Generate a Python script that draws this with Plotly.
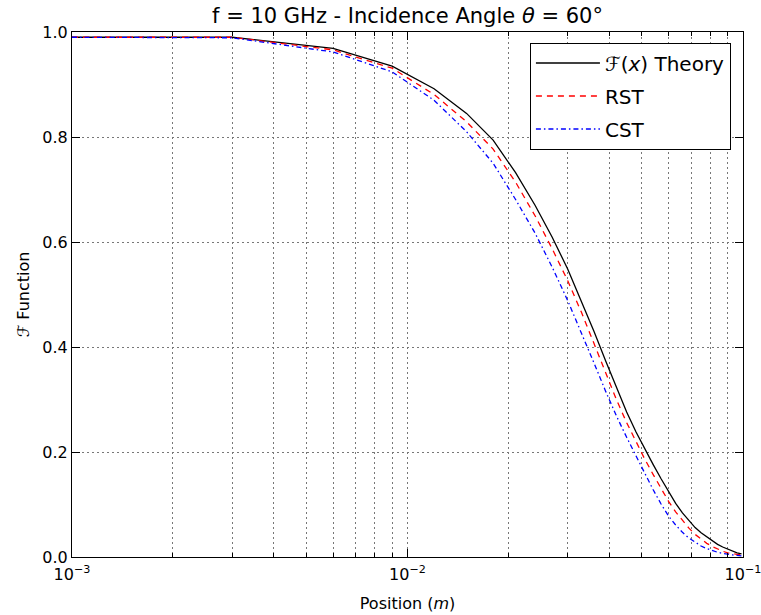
import plotly.graph_objects as go

# Position (m)
position = [0.001, 0.003, 0.006, 0.009, 0.012, 0.015, 0.018, 0.021, 0.024, 0.027,
            0.030, 0.033, 0.036, 0.039, 0.042, 0.045, 0.048, 0.051, 0.054, 0.057,
            0.060, 0.063, 0.066, 0.069, 0.072, 0.075, 0.078, 0.081, 0.084, 0.087,
            0.090, 0.093, 0.096, 0.099]

theory = [0.990, 0.990, 0.969, 0.935, 0.892, 0.845, 0.794, 0.732, 0.670, 0.609,
          0.549, 0.488, 0.429, 0.373, 0.321, 0.276, 0.238, 0.205, 0.176, 0.149,
          0.124, 0.102, 0.084, 0.069, 0.056, 0.046, 0.038, 0.030, 0.024, 0.019,
          0.015, 0.011, 0.008, 0.006]

rst = [0.990, 0.990, 0.966, 0.931, 0.881, 0.829, 0.777, 0.714, 0.650, 0.587,
       0.527, 0.466, 0.406, 0.350, 0.299, 0.256, 0.219, 0.186, 0.157, 0.130,
       0.106, 0.086, 0.069, 0.055, 0.043, 0.034, 0.026, 0.020, 0.015, 0.011,
       0.008, 0.006, 0.005, 0.004]

cst = [0.990, 0.989, 0.962, 0.924, 0.870, 0.810, 0.750, 0.681, 0.617, 0.552,
       0.489, 0.428, 0.369, 0.315, 0.268, 0.228, 0.192, 0.158, 0.128, 0.101,
       0.078, 0.061, 0.047, 0.036, 0.028, 0.021, 0.016, 0.012, 0.009, 0.007,
       0.005, 0.004, 0.003, 0.002]

x_major = [0.001, 0.01, 0.1]
x_major_text = ["10<sup>\u22123</sup>", "10<sup>\u22122</sup>", "10<sup>\u22121</sup>"]
x_minor = [0.002, 0.003, 0.004, 0.005, 0.006, 0.007, 0.008, 0.009,
           0.02, 0.03, 0.04, 0.05, 0.06, 0.07, 0.08, 0.09]
y_ticks = [0.0, 0.2, 0.4, 0.6, 0.8, 1.0]

FONT = "DejaVu Sans"
GRID = "#777777"
GDASH = "2px,3px"

fig = go.Figure()
fig.add_trace(go.Scatter(x=position, y=theory, mode="lines",
                         name="\u2131(<i>x</i>) Theory", legendgroup="a",
                         line=dict(color="black", width=1.3)))
fig.add_trace(go.Scatter(x=position, y=rst, mode="lines", name="RST",
                         legendgroup="b",
                         line=dict(color="red", width=1.3, dash="6px,5px")))
fig.add_trace(go.Scatter(x=position, y=cst, mode="lines", name="CST",
                         legendgroup="c",
                         line=dict(color="blue", width=1.3, dash="5px,3px,1.5px,3px")))

fig.update_layout(
    width=761, height=615,
    margin=dict(l=72, r=18, t=32, b=58, autoexpand=False),
    paper_bgcolor="white", plot_bgcolor="white",
    font=dict(family=FONT, size=16, color="black"),
    title=dict(text="f = 10 GHz - Incidence Angle <i>\u03b8</i> = 60\u00b0",
               x=0.5, xref="paper", xanchor="center",
               y=1 - 16 / 615, yref="container", yanchor="middle",
               font=dict(size=21)),
    showlegend=True,
    legend=dict(x=0.982, y=0.98, xanchor="right", yanchor="top",
                bgcolor="white", bordercolor="black", borderwidth=1,
                font=dict(size=20), itemwidth=64,
                traceorder="grouped", tracegroupgap=4),
)

fig.update_xaxes(
    type="log", range=[-3, -0.99995],
    tickmode="array", tickvals=x_major, ticktext=x_major_text,
    ticks="inside", ticklen=8, tickcolor="black",
    showline=True, linecolor="black", linewidth=1, mirror="allticks",
    showgrid=True, gridcolor=GRID, griddash=GDASH, gridwidth=1,
    minor=dict(tickmode="array", tickvals=x_minor, ticks="inside", ticklen=4,
               tickcolor="black", showgrid=True, gridcolor=GRID,
               griddash=GDASH, gridwidth=1),
    title=dict(text="Position (<i>m</i>)", font=dict(size=16), standoff=14),
    tickfont=dict(size=16), ticklabelstandoff=3, ticklabeloverflow="allow",
    automargin=False,
    zeroline=False,
)
fig.update_yaxes(
    range=[0, 1],
    tickmode="array", tickvals=y_ticks, tickformat=".1f",
    ticks="inside", ticklen=8, tickcolor="black",
    showline=True, linecolor="black", linewidth=1, mirror="allticks",
    showgrid=True, gridcolor=GRID, griddash=GDASH, gridwidth=1,
    title=dict(text="\u2131 Function", font=dict(size=16), standoff=8),
    tickfont=dict(size=16), ticklabeloverflow="allow",
    automargin=False,
    zeroline=False,
)

fig.write_html("out.html")
